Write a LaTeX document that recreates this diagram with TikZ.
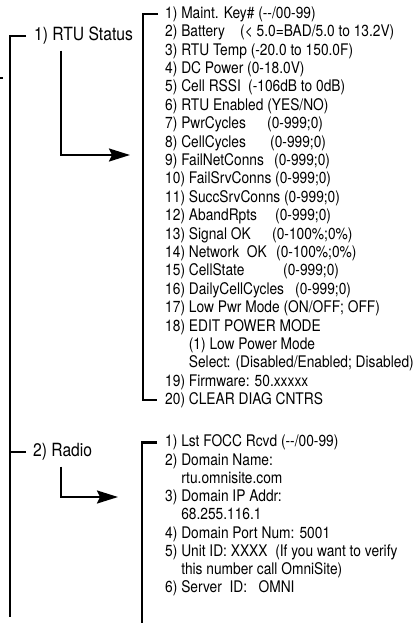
\documentclass[tikz,border=0pt]{standalone}
\usepackage{fontspec}
\setmainfont{TeX Gyre Heros}[FakeStretch=0.86]
\usetikzlibrary{arrows.meta,positioning,calc}
% name, then the value at a fixed column (or one space later if the name is longer)
\newcommand\padto[2]{\setbox0\hbox{#2\ }\ifdim\wd0<#1pt\makebox[#1pt][l]{#2}\else\box0\fi}
\tikzset{
  bracket/.style={draw=black,line width=2.1pt},
  flow/.style={-{Stealth[length=21pt,width=13pt,inset=3pt]},draw=black,line width=2.1pt},
  head/.style={inner sep=0pt,anchor=base west,font=\fontsize{18.2}{19}\selectfont},
  entry/.style={inner sep=0pt,anchor=base west,font=\fontsize{16}{17}\selectfont}
}

\begin{document}
\begin{tikzpicture}[x=1pt,y=-1pt]
  \useasboundingbox (0,0) rectangle (416,625);
  % headings
  \node[head] (rtu) at (34,40.5) {1) RTU Status};
  \node[head] (radio) at (33,456.5) {2) Radio};
  % status list
  \foreach \txt [count=\i from 0] in {
      {\padto{92}{1) Maint. Key\#}({-}{-}/00-99)},
      {\padto{75}{2) Battery}(< 5.0=BAD/5.0 to 13.2V)},
      {\padto{70}{3) RTU Temp}(-20.0 to 150.0F)},
      {\padto{82}{4) DC Power}(0-18.0V)},
      {\padto{83}{5) Cell RSSI}(-106dB to 0dB)},
      {\padto{102}{6) RTU Enabled}(YES/NO)},
      {\padto{102}{7) PwrCycles}(0-999;0)},
      {\padto{105}{8) CellCycles}(0-999;0)},
      {\padto{109}{9) FailNetConns}(0-999;0)},
      {\padto{107}{10) FailSrvConns}(0-999;0)},
      {\padto{114}{11) SuccSrvConns}(0-999;0)},
      {\padto{110}{12) AbandRpts}(0-999;0)},
      {\padto{107}{13) Signal OK}(0-100\%;0\%)},
      {\padto{111}{14) Network~ OK}(0-100\%;0\%)},
      {\padto{118}{15) CellState}(0-999;0)},
      {\padto{130}{16) DailyCellCycles}(0-999;0)},
      {\padto{102}{17) Low Pwr Mode}(ON/OFF; OFF)},
      {18) EDIT POWER MODE},
      {\phantom{18) }(1) Low Power Mode},
      {\phantom{18) }Select: (Disabled/Enabled; Disabled)},
      {19) Firmware: 50.xxxxx},
      {20) CLEAR DIAG CNTRS}}
    \node[entry] (s\i) at (165,18.3+18.4*\i) {\txt};
  % radio list
  \foreach \txt [count=\i from 0] in {
      {1) Lst FOCC Rcvd ({-}{-}/00-99)},
      {2) Domain Name:},
      {\phantom{2) }rtu.omnisite.com},
      {3) Domain IP Addr:},
      {\phantom{3) }68.255.116.1},
      {4) Domain Port Num: 5001},
      {5) Unit ID: XXXX~ (If you want to verify},
      {\phantom{5) }this number call OmniSite)},
      {6) Server~ ID: ~ OMNI}}
    \node[entry] (r\i) at (165,446.8+18.27*\i) {\txt};
  % brackets
  \coordinate (obot) at (10,617);
  \coordinate (lst) at (143,0);
  \coordinate (rbot) at (142,623);
  \coordinate (stub) at (0,78);
  \draw[bracket] ([xshift=-8pt]rtu.west) -- (rtu.west -| obot) -- (obot);
  \draw[bracket] ([xshift=-7pt]radio.west) -- (radio.west -| obot);
  \draw[bracket,line width=1.2pt] (stub) -- ++(3,0);
  \draw[bracket] ([xshift=-7pt]s0.west) -- (s0.west -| lst) -- (s21.west -| lst) -- ([xshift=-8pt]s21.west);
  \draw[bracket] ([xshift=-8pt]r0.west) -- (r0.west -| rbot) -- (rbot);
  % arrows
  \coordinate (rtutip) at (130,155);
  \coordinate (radiotip) at (118,497);
  \coordinate (drop) at (61,0);
  \draw[flow] ([yshift=-6pt]drop |- rtu.south) |- (rtutip);
  \draw[flow] ([yshift=-6pt]drop |- radio.south) |- (radiotip);
\end{tikzpicture}
\end{document}
